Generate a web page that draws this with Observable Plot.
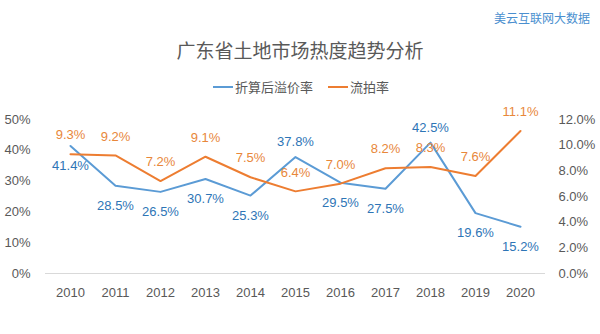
<!DOCTYPE html>
<html><head><meta charset="utf-8">
<script src="https://cdn.jsdelivr.net/npm/d3@7"></script>
<script src="https://cdn.jsdelivr.net/npm/@observablehq/plot@0.6"></script>
<style>
body{margin:0;background:#fff;}
#wrap{position:relative;width:600px;height:334px;font-family:"Liberation Sans",Arial,sans-serif;}
.t{position:absolute;white-space:nowrap;font-family:"Noto Sans CJK SC",sans-serif;line-height:1.4;}
</style></head>
<body><div id="wrap">
<div class="t" style="left:494px;top:10px;font-size:12px;color:#4a8fcf;">美云互联网大数据</div>
<div class="t" style="left:0;width:600px;text-align:center;top:37px;font-size:19px;color:#595959;">广东省土地市场热度趋势分析</div>
<div class="t" style="left:213px;top:78px;font-size:13px;color:#595959;display:flex;align-items:center;">
<span style="display:inline-block;width:20px;height:2.5px;background:#5b9bd5;margin-right:2px;"></span>折算后溢价率
<span style="display:inline-block;width:20px;height:2.5px;background:#ed7d31;margin-left:15px;margin-right:2px;"></span>流拍率</div>
<div id="chart" style="position:absolute;left:0;top:0;"></div>
</div>
<script>
const years = ["2010","2011","2012","2013","2014","2015","2016","2017","2018","2019","2020"];
const premium = [41.4,28.5,26.5,30.7,25.3,37.8,29.5,27.5,42.5,19.6,15.2];
const failRate = [9.3,9.2,7.2,9.1,7.5,6.4,7.0,8.2,8.3,7.6,11.1];
const leftTicks = [0,10,20,30,40,50];
const rightTicks = [0,2,4,6,8,10,12];
const premiumAbove = ["2015","2018"];

const k = 50/12;
const blue = years.map((y,i)=>({year:y, v:premium[i], above: premiumAbove.includes(y)}));
const orange = years.map((y,i)=>({year:y, v:failRate[i]*k, raw:failRate[i]}));

const chart = Plot.plot({
  width:600, height:334,
  marginTop:119, marginBottom:61, marginLeft:45, marginRight:55,
  style:{fontFamily:"Liberation Sans, Arial, sans-serif", fontSize:"13px", color:"#595959", background:"transparent"},
  x:{type:"point", domain:years, padding:0.5},
  y:{domain:[0,50]},
  marks:[
    Plot.ruleY([0],{stroke:"#d9d9d9", strokeWidth:1}),
    Plot.axisX({ticks:years, tickSize:0, tickPadding:14, fontSize:13, fill:"#595959", label:null}),
    Plot.axisY(leftTicks,{anchor:"left", tickSize:0, tickPadding:15, tickFormat:d=>d+"%", fontSize:13, fill:"#595959", label:null}),
    Plot.axisY(rightTicks.map(d=>d*k),{anchor:"right", tickSize:0, tickPadding:13, tickFormat:d=>(d/k).toFixed(1)+"%", fontSize:13, fill:"#595959", label:null}),
    Plot.line(blue,{x:"year", y:"v", stroke:"#5b9bd5", strokeWidth:2}),
    Plot.line(orange,{x:"year", y:"v", stroke:"#ed7d31", strokeWidth:2}),
    Plot.text(blue.filter(d=>!d.above),{x:"year", y:"v", text:d=>d.v.toFixed(1)+"%", dy:20, fill:"#2e75b6", fontSize:13}),
    Plot.text(blue.filter(d=>d.above),{x:"year", y:"v", text:d=>d.v.toFixed(1)+"%", dy:-15, fill:"#2e75b6", fontSize:13}),
    Plot.text(orange,{x:"year", y:"v", text:d=>d.raw.toFixed(1)+"%", dy:-19, fill:"#e8873a", fontSize:13})
  ]
});
document.getElementById("chart").appendChild(chart);
</script>
</body></html>
